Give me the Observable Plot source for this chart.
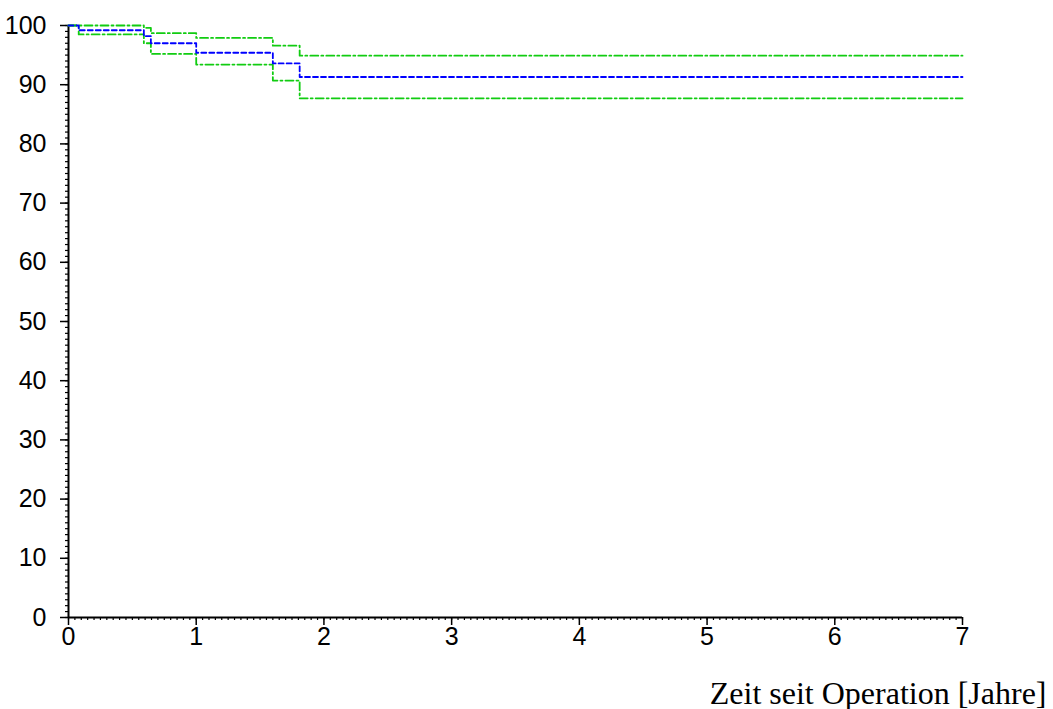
<!DOCTYPE html>
<html>
<head>
<meta charset="utf-8">
<script src="https://cdn.jsdelivr.net/npm/d3@7"></script>
<script src="https://cdn.jsdelivr.net/npm/@observablehq/plot@0.6"></script>
<style>
  html, body { margin: 0; padding: 0; background: #fff; }
  #chart svg { display: block; }
</style>
</head>
<body>
<div id="chart"></div>
<script>
// Step times (years) and survival (%) — Kaplan–Meier estimate with confidence bounds
const stepTimes = [0, 0.08, 0.59, 0.645, 1.0, 1.6, 1.81, 7];
const estimate  = [100, 99.2, 98.2, 97.0, 95.4, 93.6, 91.3, 91.3];
const upperCI   = [100, 100, 99.6, 98.7, 97.9, 96.6, 94.9, 94.9];
const lowerCI   = [100, 98.5, 97.0, 95.2, 93.4, 90.7, 87.7, 87.7];

const xMajor = [0, 1, 2, 3, 4, 5, 6, 7];
const yMajor = [0, 10, 20, 30, 40, 50, 60, 70, 80, 90, 100];
const xMinor = d3.range(0, 141).map(i => i / 20);
const yMinor = d3.range(0, 101);
const xLabel = "Zeit seit Operation [Jahre]";

const mk = vals => stepTimes.map((t, i) => ({t, v: vals[i]}));

const chart = Plot.plot({
  width: 1053,
  height: 709,
  marginTop: 25,
  marginBottom: 92,
  marginLeft: 68,
  marginRight: 91,
  x: {domain: [0, 7]},
  y: {domain: [0, 100]},
  style: {fontFamily: "'Liberation Sans', Arial, sans-serif", background: "#fff"},
  marks: [
    Plot.axisX(xMinor, {tickSize: 3, text: null, stroke: "#000", strokeWidth: 1.2, label: null}),
    Plot.axisX(xMajor, {tickSize: 8, tickPadding: 2, fontSize: 25, fill: "#000", stroke: "#000", strokeWidth: 1.5, label: null, tickFormat: d => String(d)}),
    Plot.axisY(yMinor, {tickSize: 3, text: null, stroke: "#000", strokeWidth: 1.2, label: null}),
    Plot.axisY(yMajor, {tickSize: 8, tickPadding: 14, fontSize: 25, fill: "#000", stroke: "#000", strokeWidth: 1.5, label: null, tickFormat: d => String(d)}),
    Plot.ruleX([0], {stroke: "#000", strokeWidth: 2}),
    Plot.ruleY([0], {stroke: "#000", strokeWidth: 2}),
    Plot.line(mk(upperCI), {x: "t", y: "v", curve: "step-after", stroke: "#11cc11", strokeWidth: 1.8, strokeDasharray: "8,3,2,3"}),
    Plot.line(mk(lowerCI), {x: "t", y: "v", curve: "step-after", stroke: "#11cc11", strokeWidth: 1.8, strokeDasharray: "8,3,2,3"}),
    Plot.line(mk(estimate), {x: "t", y: "v", curve: "step-after", stroke: "#0000ff", strokeWidth: 1.8, strokeDasharray: "5,3"}),
    Plot.text([xLabel], {x: () => 7, y: () => 0, text: d => d, textAnchor: "end", lineAnchor: "bottom", dx: 84, dy: 86, fontSize: 32, fontFamily: "'Liberation Serif', 'Times New Roman', serif", fill: "#000"})
  ]
});
document.getElementById("chart").appendChild(chart);
</script>
</body>
</html>
